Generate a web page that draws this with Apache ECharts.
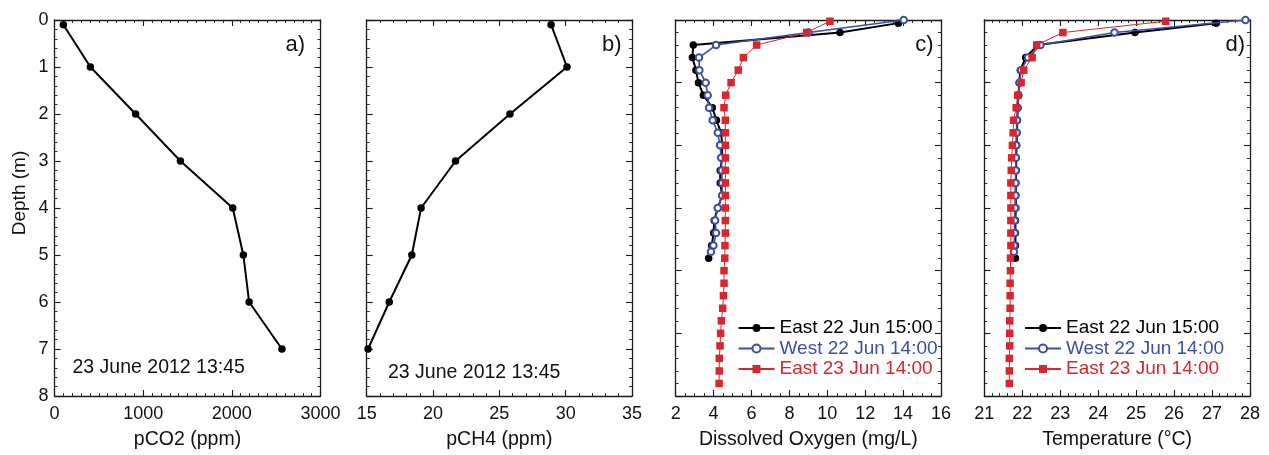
<!DOCTYPE html>
<html>
<head>
<meta charset="utf-8">
<script src="https://cdn.jsdelivr.net/npm/echarts/dist/echarts.min.js"></script>
<style>
  html, body { margin: 0; padding: 0; background: #ffffff; }
  #main { width: 1269px; height: 455px; }
</style>
</head>
<body>
<div id="main"></div>
<script>
// ---- Profile data (depth in metres) ----
// Panels a) and b): gas samples, 23 June 2012 13:45
const gasDepth = [0.1, 1, 2, 3, 4, 5, 6, 7];
const pco2 = [100, 405, 915, 1420, 2010, 2130, 2195, 2565];
const pch4 = [28.9, 30.1, 25.8, 21.7, 19.1, 18.4, 16.7, 15.1];

// Panels c) and d): sonde casts
const eastJun22Depth = [0.05, 0.2, 0.4, 0.6, 0.8, 1.0, 1.2, 1.4, 1.6, 1.8, 2.0, 2.2, 2.4, 2.6, 2.8, 3.0, 3.2, 3.4, 3.6, 3.8];
const westJun22Depth = [0.0, 0.2, 0.4, 0.6, 0.8, 1.0, 1.2, 1.4, 1.6, 1.8, 2.0, 2.2, 2.4, 2.6, 2.8, 3.0, 3.2, 3.4, 3.6, 3.7];
const eastJun23Depth = [0.02, 0.2, 0.4, 0.6, 0.8, 1.0, 1.2, 1.4, 1.6, 1.8, 2.0, 2.2, 2.4, 2.6, 2.8, 3.0, 3.2, 3.4, 3.6, 3.8,
                        4.0, 4.2, 4.4, 4.6, 4.8, 5.0, 5.2, 5.4, 5.6, 5.8];

const eastJun22DO = [13.75, 10.67, 2.93, 2.88, 3.07, 3.2, 3.46, 3.93, 4.15, 4.4, 4.45, 4.45, 4.35, 4.35, 4.45, 4.22, 4.03, 4.0, 3.9, 3.74];
const westJun22DO = [14.03, 9.0, 4.13, 3.23, 3.25, 3.58, 3.69, 3.76, 3.95, 4.22, 4.34, 4.4, 4.43, 4.45, 4.45, 4.22, 4.08, 4.13, 3.99, 3.86];
const eastJun23DO = [10.14, 8.91, 6.27, 5.57, 5.3, 4.92, 4.64, 4.55, 4.62, 4.62, 4.62, 4.62, 4.62, 4.62, 4.62, 4.62, 4.62, 4.62, 4.6, 4.59,
                     4.55, 4.55, 4.52, 4.48, 4.41, 4.37, 4.34, 4.3, 4.3, 4.29];

const eastJun22Temp = [27.11, 24.97, 22.4, 22.09, 21.95, 21.92, 21.9, 21.88, 21.87, 21.86, 21.85, 21.84, 21.84, 21.83, 21.83, 21.83, 21.82, 21.82, 21.82, 21.82];
const westJun22Temp = [27.88, 24.43, 22.48, 22.15, 21.97, 21.93, 21.9, 21.88, 21.86, 21.85, 21.84, 21.83, 21.83, 21.82, 21.82, 21.81, 21.8, 21.8, 21.79, 21.78];
const eastJun23Temp = [25.78, 23.07, 22.38, 22.26, 22.04, 21.97, 21.88, 21.84, 21.77, 21.76, 21.74, 21.72, 21.71, 21.7, 21.7, 21.7, 21.7, 21.7, 21.7, 21.69,
                       21.69, 21.68, 21.68, 21.68, 21.67, 21.67, 21.67, 21.66, 21.66, 21.66];

const castNames = ['East 22 Jun 15:00', 'West 22 Jun 14:00', 'East 23 Jun 14:00'];
const sampleTime = '23 June 2012 13:45';

// ---- Styling ----
const FONT = '"Liberation Sans", Arial, Helvetica, sans-serif';
const INK = '#1a1a1a';
const BLUE = '#3a4fa8';
const RED = '#d8262e';

// plot rectangles for the four panels
const panels = [
  { left: 54.5,  width: 266   },
  { left: 366.7, width: 265.3 },
  { left: 675.7, width: 265.3 },
  { left: 984.3, width: 265.7 }
];
const TOP = 20, HEIGHT = 377.5;

const chart = echarts.init(document.getElementById('main'), null, { renderer: 'canvas' });

const grids = panels.map(p => ({ left: p.left, top: TOP, width: p.width, height: HEIGHT, containLabel: false }));

function frameAxis(extra) {
  return Object.assign({
    type: 'value',
    axisLine: { show: true, onZero: false, lineStyle: { color: INK, width: 1.3 } },
    axisTick: { show: true, inside: true, length: 6, lineStyle: { color: INK, width: 1.1 } },
    minorTick: { show: true, length: 3, lineStyle: { color: INK, width: 0.9 } },
    splitLine: { show: false },
    minorSplitLine: { show: false },
    axisLabel: { show: false }
  }, extra);
}

// x-axis settings per panel: [min, max, interval, minor splits, title]
const xSpecs = [
  [0, 3000, 1000, 10, 'pCO2 (ppm)'],
  [15, 35, 5, 5, 'pCH4 (ppm)'],
  [2, 16, 2, 4, 'Dissolved Oxygen (mg/L)'],
  [21, 28, 1, 5, 'Temperature (°C)']
];
const yMax = [8, 8, 6, 6];

const plainNumber = v => String(v);

const xAxes = [];
const yAxes = [];
xSpecs.forEach((s, i) => {
  const [mn, mx, iv, ms, title] = s;
  // bottom axis with labels and title
  const bottom = frameAxis({
    gridIndex: i, position: 'bottom', min: mn, max: mx, interval: iv,
    minorTick: { show: true, splitNumber: ms, length: 3, lineStyle: { color: INK, width: 0.9 } },
    axisLabel: { show: true, margin: 9, fontSize: 18, color: '#111', fontFamily: FONT, formatter: plainNumber },
    name: title, nameLocation: 'middle', nameGap: 34,
    nameTextStyle: { fontSize: 19.5, color: '#111', fontFamily: FONT }
  });
  // mirrored top axis (ticks only)
  const top = frameAxis({
    gridIndex: i, position: 'top', min: mn, max: mx, interval: iv,
    minorTick: { show: true, splitNumber: ms, length: 3, lineStyle: { color: INK, width: 0.9 } }
  });
  xAxes.push(bottom, top);

  const left = frameAxis({
    gridIndex: i, position: 'left', min: 0, max: yMax[i], interval: 1, inverse: true,
    minorTick: { show: true, splitNumber: 5, length: 3, lineStyle: { color: INK, width: 0.9 } },
    axisLabel: { show: i === 0, margin: 6, fontSize: 18, color: '#111', fontFamily: FONT, formatter: plainNumber }
  });
  const right = frameAxis({
    gridIndex: i, position: 'right', min: 0, max: yMax[i], interval: 1, inverse: true,
    minorTick: { show: true, splitNumber: 5, length: 3, lineStyle: { color: INK, width: 0.9 } }
  });
  yAxes.push(left, right);
});

function pairs(xs, ds) { return xs.map((v, k) => [v, ds[k]]); }

function blackSeries(name, panel, xs, ds, width) {
  return {
    name, type: 'line', xAxisIndex: panel * 2, yAxisIndex: panel * 2,
    data: pairs(xs, ds), symbol: 'circle', symbolSize: 7.5,
    lineStyle: { color: '#000', width: width },
    itemStyle: { color: '#000', borderWidth: 0 },
    z: 3, animation: false, silent: true
  };
}
function blueSeries(panel, xs, ds) {
  return {
    name: castNames[1], type: 'line', xAxisIndex: panel * 2, yAxisIndex: panel * 2,
    data: pairs(xs, ds), symbol: 'emptyCircle', symbolSize: 6.5,
    lineStyle: { color: BLUE, width: 1.6 },
    itemStyle: { color: BLUE, borderColor: BLUE, borderWidth: 1.1 },
    z: 4, animation: false, silent: true
  };
}
function redSeries(panel, xs, ds) {
  return {
    name: castNames[2], type: 'line', xAxisIndex: panel * 2, yAxisIndex: panel * 2,
    data: pairs(xs, ds), symbol: 'rect', symbolSize: 7.5,
    lineStyle: { color: RED, width: 1 },
    itemStyle: { color: RED, borderWidth: 0 },
    z: 5, animation: false, silent: true
  };
}

const series = [
  blackSeries('pCO2', 0, pco2, gasDepth, 2),
  blackSeries('pCH4', 1, pch4, gasDepth, 2),
  blackSeries(castNames[0], 2, eastJun22DO, eastJun22Depth, 2),
  blueSeries(2, westJun22DO, westJun22Depth),
  redSeries(2, eastJun23DO, eastJun23Depth),
  blackSeries(castNames[0], 3, eastJun22Temp, eastJun22Depth, 2),
  blueSeries(3, westJun22Temp, westJun22Depth),
  redSeries(3, eastJun23Temp, eastJun23Depth)
];

const legendColors = ['#000', BLUE, RED];
function castLegend(left) {
  return {
    left: left, top: 318.5, orient: 'vertical', padding: 0,
    itemWidth: 36, itemHeight: 10, itemGap: 1.5, selectedMode: false,
    textStyle: { fontSize: 19, fontFamily: FONT, lineHeight: 19 },
    data: castNames.map((n, k) => ({ name: n, textStyle: { color: legendColors[k] } }))
  };
}

function label(text, x, y, align, size) {
  return {
    type: 'text', x: x, y: y, silent: true,
    style: { text: text, fill: '#111', fontSize: size, fontFamily: FONT,
             align: align, verticalAlign: 'middle', textAlign: align, textVerticalAlign: 'middle' }
  };
}

const graphic = [
  label('a)', 305, 45, 'right', 22),
  label('b)', 621.5, 45, 'right', 22),
  label('c)', 933.5, 45, 'right', 22),
  label('d)', 1245, 45, 'right', 22),
  label(sampleTime, 72.5, 368, 'left', 19.5),
  label(sampleTime, 388, 372.5, 'left', 19.5),
  Object.assign(label('Depth (m)', 20, 193, 'center', 19), { rotation: Math.PI / 2 })
];

chart.setOption({
  animation: false,
  backgroundColor: '#ffffff',
  grid: grids,
  xAxis: xAxes,
  yAxis: yAxes,
  legend: [castLegend(737.5), castLegend(1024)],
  series: series,
  graphic: graphic
});
</script>
</body>
</html>
